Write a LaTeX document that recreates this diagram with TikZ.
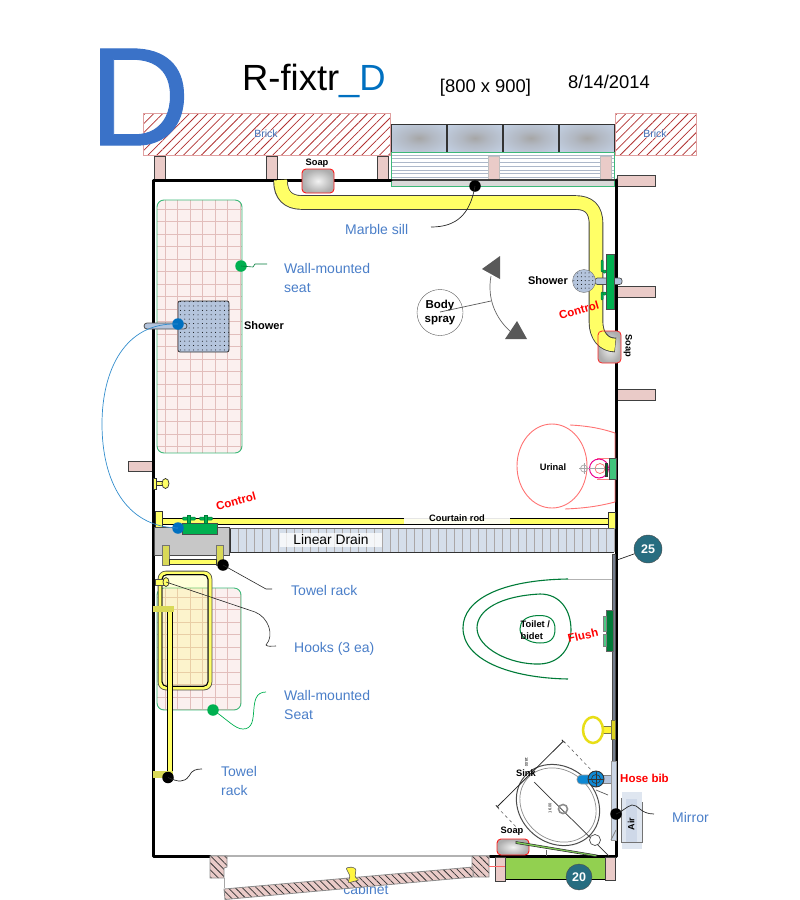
\documentclass[tikz,border=0pt]{standalone}
\usepackage{fontspec}
\setmainfont{Liberation Sans}
\newfontfamily\bigdfont[FakeBold=0.7]{Liberation Sans}
\usetikzlibrary{arrows.meta,patterns.meta}
\newcommand{\fsz}[1]{\fontsize{#1}{#1}\selectfont}
\definecolor{labelblue}{HTML}{4A7EC8}
\definecolor{bricktext}{HTML}{3F6DB5}
\definecolor{titleblue}{HTML}{0070C0}
\definecolor{bigblue}{HTML}{3A72C8}
\definecolor{brickline}{HTML}{B03030}
\definecolor{brickedge}{HTML}{E0A0A0}
\definecolor{postpink}{HTML}{EACBC8}
\definecolor{gridpink}{HTML}{E2BEBC}
\definecolor{seatfill}{HTML}{FBF0EF}
\definecolor{seatedge}{HTML}{3CB878}
\definecolor{pipeyellow}{HTML}{FFFF66}
\definecolor{fixgreen}{HTML}{00B050}
\definecolor{steelblue}{HTML}{B4C4DC}
\definecolor{glassblue}{HTML}{C4D2E6}
\definecolor{glassmid}{HTML}{B2B8C2}
\definecolor{glasscore}{HTML}{A6A6A6}
\definecolor{drainfill}{HTML}{D5DEEA}
\definecolor{drainline}{HTML}{AAA6A6}
\definecolor{cabgreen}{HTML}{92D050}
\definecolor{tealdark}{HTML}{276D80}
\pgfdeclareradialshading{windowglass}{\pgfpoint{0bp}{0bp}}{%
  color(0bp)=(glasscore); color(12bp)=(glassmid); color(36bp)=(glassblue); color(50bp)=(glassblue)}
\tikzset{
  post/.style={draw=black!75, fill=postpink, line width=0.9pt},
  hatchbox/.style={draw=brickedge, line width=0.9pt, pattern={Lines[angle=45,distance=6.3pt,line width=0.75pt]}, pattern color=brickline},
  hatchdark/.style={draw=black!45, line width=0.8pt, preaction={fill=postpink}, pattern={Lines[angle=-45,distance=5pt,line width=0.75pt]}, pattern color=black!80},
  pipe/.style={draw=black!80, fill=pipeyellow, line width=0.7pt},
  soapbar/.style={draw=red!90, line width=0.9pt, rounded corners=4pt, inner color=black!5, outer color=black!32},
  callout/.style={text=labelblue, font=\fontsize{14}{19.5}\selectfont, align=left, anchor=west, inner sep=0pt},
  tagblack/.style={font=\bfseries\fsz{9.3}, align=center},
  tagred/.style={text=red, font=\bfseries\fsz{11.5}},
  dotmark/.style={circle, fill=#1, minimum size=11.5pt, inner sep=0pt},
  badge/.style={circle, draw=black!70, fill=tealdark, text=white, minimum size=28pt, inner sep=0pt, font=\bfseries\fsz{12.5}},
  brick label/.style={text=bricktext, font=\fsz{10.5}, fill=white, fill opacity=0.45, text opacity=1, inner sep=0.5pt}
}
\begin{document}
\begin{tikzpicture}[x=1pt, y=-1pt]
\useasboundingbox (0,0) rectangle (800,900);

% ==== Header ====
\node[anchor=west, inner sep=0pt, font=\fsz{36.4}] (title) at (242,81) {R-fixtr\textcolor{titleblue}{\_D}};
\node[font=\fsz{18.4}] (size) at (485.5,88) {[800 x 900]};
\node[font=\fsz{18.4}] (date) at (609,82) {8/14/2014};

% ==== Brick ====
\draw[hatchbox] (143,113) rectangle (390,155);
\draw[hatchbox] (615,113) rectangle (696,155);
\node[brick label] (brickL) at (266,134) {Brick};
\node[brick label] (brickR) at (655,134) {Brick};
\node[anchor=west, inner sep=0pt, text=bigblue, font=\bigdfont\fsz{140}] (bigD) at (89,97) {D};

% ==== Window and sill ====
\foreach \x in {391,447,503,559}
    \shade[shading=windowglass, draw=black!80, line width=0.8pt] (\x,124) rectangle +(55.7,28);
\foreach \y in {155,158.7,162.4,166.1,169.8,173.5,177.2}
    \draw[steelblue!85!black!80, line width=0.6pt] (391,\y) -- (614,\y);
\foreach \x in {488,600}
    \draw[draw=black!25, fill=postpink, line width=0.8pt] (\x,156) rectangle +(11,24);
\fill[black!15] (391,180) rectangle (614,186);
\draw[seatedge, line width=0.9pt] (391,152) rectangle (614,186);

% ==== Walls ====
\foreach \x in {154,266,377}
    \draw[post] (\x,156) rectangle +(11,24);
\foreach \y in {175,286,389}
    \draw[post] (617,\y) rectangle +(38,11);
\draw[post] (128,461) rectangle (152,471);
\draw[black!75, line width=2.4pt] (391,180) -- (616,180);
\draw[black!30, line width=2pt] (210,856) -- (490,856);
\draw[black, line width=3pt, line cap=round, line join=round] (391,180) -- (153,180) -- (153,856) -- (210,856);
\draw[black, line width=3pt, line cap=round, line join=round] (616,180) -- (616,856) -- (490,856);

% ==== Seats ====
\begin{scope}
\clip[rounded corners=7pt] (157,200) rectangle (242,453);
\fill[seatfill] (157,200) rectangle (242,453);
\foreach \x in {165,177.5,...,240} \draw[gridpink, line width=0.7pt] (\x,200) -- (\x,453);
\foreach \y in {209,221.5,...,453} \draw[gridpink, line width=0.7pt] (157,\y) -- (242,\y);
\end{scope}
\draw[seatedge, line width=0.9pt, rounded corners=7pt] (157,200) rectangle (242,453);
\begin{scope}
\clip[rounded corners=7pt] (157,588) rectangle (241,710);
\fill[seatfill] (157,588) rectangle (241,710);
\foreach \x in {165,177.5,...,240} \draw[gridpink, line width=0.7pt] (\x,588) -- (\x,710);
\foreach \y in {597,609.5,...,710} \draw[gridpink, line width=0.7pt] (157,\y) -- (241,\y);
\end{scope}
\draw[seatedge, line width=0.9pt, rounded corners=7pt] (157,588) rectangle (241,710);

% ==== Top soap and pipe ====
\draw[soapbar] (302,169) rectangle (334,193);
\node[tagblack] (soapTop) at (317,163) {Soap};
\shade[inner color=black!5, outer color=black!32, rounded corners=4pt] (598,331) rectangle (621,363);
\draw[black!75, line width=14.6pt, line join=round] (280.5,181) .. controls (280.5,195) and (288,202.5) .. (302,202.5) -- (575,202.5) .. controls (589,202.5) and (596,209) .. (596,224) -- (596,322) .. controls (596,335) and (603,345) .. (615.5,345);
\draw[pipeyellow, line width=12.8pt, line join=round] (280.5,180) .. controls (280.5,195) and (288,202.5) .. (302,202.5) -- (575,202.5) .. controls (589,202.5) and (596,209) .. (596,224) -- (596,322) .. controls (596,335) and (603,345) .. (615,345);
\draw[red!85, line width=0.8pt, rounded corners=4pt] (598,331) rectangle (621,363);
\node[tagblack, rotate=-90] (soapRight) at (628,346) {Soap};

% ==== Marble sill callout ====
\node[dotmark=black] (dotSill) at (475,186) {};
\coordinate (tailSill) at (431,227);
\draw[black!85, line width=0.7pt] (dotSill.center) .. controls (470,215) and (456,227) .. (tailSill);
\node[callout] (sill) at (345,229.5) {Marble sill};

% ==== Wall seat callouts ====
\node[dotmark=fixgreen] (dotSeatA) at (241,266) {};
\coordinate (tailSeatA) at (267,264);
\draw[fixgreen!70!black, line width=0.6pt] (dotSeatA.center) -- (253,267) -- (255,264) -- (tailSeatA);
\node[callout] (seatA) at (284,278) {Wall-mounted\\seat};
\node[dotmark=fixgreen] (dotSeatB) at (213,710) {};
\coordinate (tailSeatB) at (266,692);
\draw[fixgreen, line width=0.7pt] (dotSeatB.center) .. controls (228,720) and (235,729) .. (243,729) .. controls (262,729) and (245,692) .. (tailSeatB);
\node[callout] (seatB) at (284,705) {Wall-mounted\\Seat};

% ==== Shower, left side ====
\draw[black!80, fill=steelblue, line width=0.8pt, rounded corners=2pt] (178,301) rectangle (229,352);
\fill[pattern={Dots[radius=0.5pt,distance=4.4pt]}, pattern color=black, rounded corners=2pt] (178,301) rectangle (229,352);
\draw[black!70, fill=steelblue, line width=0.8pt, rounded corners=3pt] (144,323) rectangle (187,329);
\node[tagblack, font=\bfseries\fsz{11}] (showerL) at (264,325.5) {Shower};
\node[dotmark=titleblue] (dotShower) at (178,324) {};

% ==== Body spray ====
\node[circle, draw=black!65, minimum size=46pt, inner sep=0pt, align=center, font=\bfseries\fontsize{11.5}{14.5}\selectfont] (spray) at (440,312.5) {Body\\spray};
\draw[black!65, line width=0.7pt] (440,312) -- (491,301);
\draw[black!60, line width=0.7pt] (491,276) .. controls (487,298) and (495,318) .. (511,332);
\fill[black!65] (500,256) -- (482,269) -- (500,279) -- cycle;
\fill[black!65] (517,321) -- (505,339) -- (527,339) -- cycle;

% ==== Shower, right side ====
\draw[black!70, fill=steelblue, line width=0.7pt, rounded corners=2.5pt] (595,278) rectangle (622,284.5);
\draw[black!70, fill=fixgreen, line width=0.7pt] (606,254) rectangle (614,309);
\draw[fixgreen!70!black, fill=fixgreen, line width=0.5pt, rounded corners=1pt] (601,260) rectangle (603,272);
\draw[fixgreen!70!black, fill=fixgreen, line width=0.5pt, rounded corners=1pt] (603,270) rectangle (606,273);
\draw[fixgreen!70!black, fill=fixgreen, line width=0.5pt, rounded corners=1pt] (601,292) rectangle (603,300);
\draw[fixgreen!70!black, fill=fixgreen, line width=0.5pt, rounded corners=1pt] (603,292) rectangle (606,295);
\node[circle, draw=black!55, fill=steelblue, minimum size=23pt, inner sep=0pt] (ball) at (584,281) {};
\fill[pattern={Dots[radius=0.5pt,distance=3.8pt]}, pattern color=black] (584,281) circle (10.5);
\node[tagblack, font=\bfseries\fsz{11}] (showerR) at (548,281) {Shower};
\node[tagred, rotate=16] (controlR) at (579,310) {Control};

% ==== Urinal ====
\draw[red!55, line width=0.9pt] (552,466) ellipse (35 and 42);
\draw[red!55, line width=0.9pt] (570,425) .. controls (590,426) and (603,429) .. (615,433) -- (615,502) .. controls (603,505) and (590,508) .. (565,509);
\draw[red!50, line width=0.8pt] (597,458) -- (609,458);
\draw[red!50, line width=0.8pt] (597,479) -- (609,479);
\draw[magenta, line width=1pt] (599,468.5) circle (9.5);
\draw[red!60, line width=0.7pt] (600,468.5) circle (5);
\draw[black!35, line width=0.7pt] (584,468.5) circle (3.5);
\draw[black!35, line width=0.6pt] (579,468.5) -- (609,468.5);
\draw[black!35, line width=0.6pt] (584,463) -- (584,474);
\draw[black!70, fill=fixgreen!75, line width=0.7pt] (609,458) rectangle (616,479);
\draw[black!80, fill=fixgreen!60!black, line width=0.5pt] (605,463) rectangle (607.5,476);
\node[tagblack] (urinal) at (553,467) {Urinal};

% ==== Curtain rod ====
\draw[black, fill=pipeyellow, line width=0.9pt] (160,518) rectangle (608,524);
\fill[white, opacity=0.9] (404,516) rectangle (510,524);
\draw[pipe] (155,511) rectangle (162,528);
\draw[pipe] (608,512) rectangle (615,528.5);
\node[tagblack] (rod) at (457,518.5) {Courtain rod};

% ==== Left hook ====
\draw[pipe] (153,478) rectangle (156,489);
\draw[pipe] (156,481.5) rectangle (165,485.5);
\draw[pipe] (165.5,483.5) ellipse (3.5 and 5);

% ==== Linear drain ====
\fill[drainfill] (230,528) rectangle (614,552);
\foreach \x in {238,246,...,614}
    \draw[drainline, line width=0.7pt] (\x,528) -- (\x,552);
\draw[black!80, line width=0.9pt] (230,528) -- (230,552) -- (614,552);
\draw[black!60, line width=0.9pt] (230,528) -- (614,528);
\node[fill=white, fill opacity=0.75, text opacity=1, inner sep=1.5pt, font=\fsz{13.8}, minimum width=102pt] (drain) at (331,540) {Linear Drain};
\draw[black!70, fill=black!22, line width=0.8pt] (154,527) rectangle (229,555);

% ==== Control, left side ====
\draw[black!70, fill=fixgreen, line width=0.7pt] (182,523) rectangle (217,534);
\foreach \x in {189,206} {
    \draw[fixgreen!70!black, fill=fixgreen, line width=0.5pt, rounded corners=1pt] (\x-6.5,517) rectangle (\x+6.5,520);
    \draw[fixgreen!70!black, fill=fixgreen, line width=0.5pt] (\x-1.5,515) rectangle (\x+1.5,523);
}
\node[dotmark=titleblue] (dotControl) at (178,528) {};
\draw[titleblue!80, line width=0.7pt] (dotShower.center) .. controls (125,322) and (102,370) .. (102,424) .. controls (102,480) and (125,527) .. (dotControl.center);
\node[tagred, rotate=15] (controlL) at (236,501) {Control};

% ==== Towel rack, under the drain ====
\draw[black!55, fill=pipeyellow!85!black, line width=0.7pt] (162,545) rectangle (169,565);
\draw[black!55, fill=pipeyellow!85!black, line width=0.7pt] (216,545) rectangle (223,565);
\draw[pipe] (169,559) rectangle (216,564);
\node[dotmark=black] (dotRack) at (223,565) {};
\coordinate (tailRack) at (272,589);
\draw[black!85, line width=0.6pt] (dotRack.center) -- (266,589) -- (tailRack);
\node[callout] (rackTop) at (291,590.5) {Towel rack};

% ==== Tub and hooks ====
\fill[pipeyellow, opacity=0.25, rounded corners=6pt] (158,571) rectangle (212,690);
\draw[black!70, line width=4.6pt, rounded corners=6pt] (160,573) rectangle (210,688);
\draw[pipeyellow, line width=3pt, rounded corners=6pt] (160,573) rectangle (210,688);
\draw[black, line width=0.9pt, rounded corners=5pt] (162,574.5) rectangle (208,686.5);
\draw[black!70, fill=pipeyellow, line width=0.6pt] (155,579) rectangle (167,585);
\draw[pipe] (166,582) ellipse (3 and 4.5);
\coordinate (tailHooks) at (276,646);
\draw[black!85, line width=0.6pt] (166,582) -- (255,612) .. controls (268,617) and (275,635) .. (266,645) .. controls (268,647) and (271,646) .. (tailHooks);
\node[callout] (hooks) at (294,648.5) {Hooks (3 ea)};

% ==== Towel rack, left wall ====
\draw[black, fill=pipeyellow, line width=0.7pt] (167.5,610) rectangle (172.5,773);
\fill[pipeyellow!85!black] (153,606) rectangle (174,612);
\fill[pipeyellow!85!black] (153,771) rectangle (173,778);
\node[dotmark=black] (dotTowel) at (168,777.5) {};
\coordinate (tailTowel) at (202,769);
\draw[black!85, line width=0.7pt] (dotTowel.center) .. controls (178,782) and (184,783) .. (189,776) .. controls (192,770) and (196,769) .. (tailTowel);
\node[callout] (rackLow) at (221,781) {Towel\\rack};

% ==== Toilet ====
\draw[black!30, line width=0.8pt] (568,579) -- (613,579);
\draw[fixgreen!70!black, line width=1.1pt] (568,579) .. controls (500,580) and (463,600) .. (463,628) .. controls (463,660) and (510,678) .. (568,679);
\draw[fixgreen!70!black, line width=1.1pt] (540,594) .. controls (500,596) and (477,610) .. (477,628) .. controls (477,648) and (510,665) .. (540,664) .. controls (560,663) and (571,648) .. (571,630) .. controls (571,610) and (560,594) .. (540,594);
\draw[fixgreen!75!black, line width=1pt] (538,615.5) .. controls (525,616) and (520,622) .. (520,629) .. controls (520,638) and (530,643) .. (540,643) .. controls (549,643) and (555,640) .. (555,629) .. controls (555,620) and (550,615) .. (538,615.5);
\node[tagblack, align=left, anchor=west, inner sep=0pt, font=\bfseries\fontsize{9.3}{11.5}\selectfont] (toilet) at (520.5,630) {Toilet /\\bidet};
\node[tagred, rotate=13] (flush) at (583,635.5) {Flush};
\draw[black!70, fill=black!35!steelblue, line width=0.7pt] (612,554) rectangle (615.5,761);
\draw[black!60, fill=fixgreen!70!black, line width=0.8pt] (606,610) rectangle (613,651);
\draw[black!50, fill=fixgreen!70, line width=0.6pt] (603.5,616) rectangle (606,631);
\draw[black!50, fill=fixgreen!70, line width=0.6pt] (603.5,634) rectangle (606,646);
\node[badge] (badgeA) at (648,549) {25};
\draw[black!85, line width=0.7pt] (badgeA) -- (617,560);

% ==== Ring ====
\draw[draw=black!60!yellow, fill=yellow!80, line width=0.6pt] (600,726) rectangle (612,733);
\draw[yellow!90!black, line width=2.5pt, fill=white] (593,730) ellipse (10 and 13);
\draw[draw=black!60!yellow, fill=yellow!85!black, line width=0.6pt] (611,720) rectangle (615,739);

% ==== Sink ====
\draw[black!70, line width=1pt, fill=white, rotate around={-40:(558,805)}] (558,805) ellipse (44 and 38);
\draw[black!45, line width=0.7pt, rotate around={-40:(558,805)}] (558,805) ellipse (40.5 and 34.5);
\draw[black!65, line width=0.7pt] (596,790) -- (608,795);
\draw[black!85, line width=0.8pt, {Bar[width=4pt]}-{Bar[width=4pt]}] (563.5,741) -- (497,807);
\draw[black!60, line width=0.6pt, dashed] (563.5,741) -- (596,775);
\draw[black!60, line width=0.6pt, dashed] (497,807) -- (520,831);
\draw[black!80, line width=0.7pt] (534,782) -- (609,856);
\draw[black!45, line width=1.6pt] (563,809) circle (4.5);
\draw[black!70, line width=0.7pt, fill=white] (595,840) circle (5.5);
\node[tagblack] (sink) at (526,773) {Sink};
\node[rotate=-90, font=\fsz{4}] (sinkA) at (526.5,762) {18.00};
\node[rotate=90, font=\fsz{4}] (sinkB) at (550,808) {16.00};

% ==== Faucet ====
\draw[black!50, fill=steelblue, line width=0.6pt] (600,775) rectangle (611,783);
\draw[black!40, fill=cyan!70!blue, line width=0.6pt, rounded corners=4pt] (577,775) rectangle (592,784);
\draw[black!80, fill=cyan!70!blue, line width=0.9pt] (596,779) circle (8);
\draw[black!80, line width=0.8pt] (588,779) -- (604,779);
\draw[black!80, line width=0.8pt] (596,771) -- (596,787);
\draw[black!80, line width=0.6pt] (596,779) circle (4.5);
\node[tagred, anchor=west, inner sep=0pt] (hosebib) at (620,778.5) {Hose bib};

% ==== Air and mirror ====
\draw[black!40, fill=steelblue!70, line width=0.7pt] (611.5,761) rectangle (616,840);
\draw[black!50, line width=0.7pt] (611,840) -- (616,830);
\fill[steelblue!60, opacity=0.7] (622,792) rectangle (642,849);
\fill[steelblue!70, opacity=0.8] (626,799) rectangle (637,842);
\draw[black!55, line width=0.7pt] (621,798) -- (621,842) -- (642,842) -- (642,802);
\node[rotate=90, font=\bfseries\fsz{9}] (air) at (631,824) {Air};
\node[dotmark=black] (dotAir) at (616,814) {};
\coordinate (tailAir) at (654,814);
\draw[black!85, line width=0.7pt] (dotAir.center) .. controls (622,812) and (627,806) .. (632,805) .. controls (638,804) and (640,814) .. (tailAir);
\node[callout] (mirror) at (672,817) {Mirror};

% ==== Bottom cabinet ====
\draw[hatchdark] (210,856) -- (227,856) -- (227,867) -- (224,868) -- (224,878) -- (210,878) -- cycle;
\draw[hatchdark] (472,856) -- (489,856) -- (489,877) -- (474,877) -- (472,868) -- cycle;
\draw[black!35, line width=0.8pt] (224,878) -- (224,888);
\node[text=labelblue, font=\fsz{14}] (cabinet) at (366,889) {cabinet};
\draw[hatchdark] (224,889) -- (473,867) -- (473,877) -- (225,899.5) -- cycle;
\draw[black!65, fill=yellow!75, line width=0.6pt, rounded corners=1pt] (346,868) -- (352,867) -- (356,869) -- (355,877) -- (359,880) -- (348,883) -- (350,876) -- cycle;

% ==== Bottom right ====
\draw[black, fill=cabgreen, line width=0.9pt] (505,857) rectangle (605,879);
\draw[post] (495,857) rectangle (505,881);
\draw[post] (605,857) rectangle (615,880);
\draw[red!60, line width=0.9pt] (489,866) -- (505,866);
\node[badge, minimum size=26pt] (badgeB) at (579,877) {20};
\draw[soapbar] (497,839) rectangle (529,855);
\node[tagblack] (soapLow) at (512,831) {Soap};
\draw[black!80, fill=fixgreen!60!yellow!80, line width=0.6pt] (516,841.5) -- (597,855) -- (596,856.5) -- (516,843.5) -- cycle;
\draw[black!60, line width=0.6pt] (546,850) -- (546,856);
\end{tikzpicture}
\end{document}
